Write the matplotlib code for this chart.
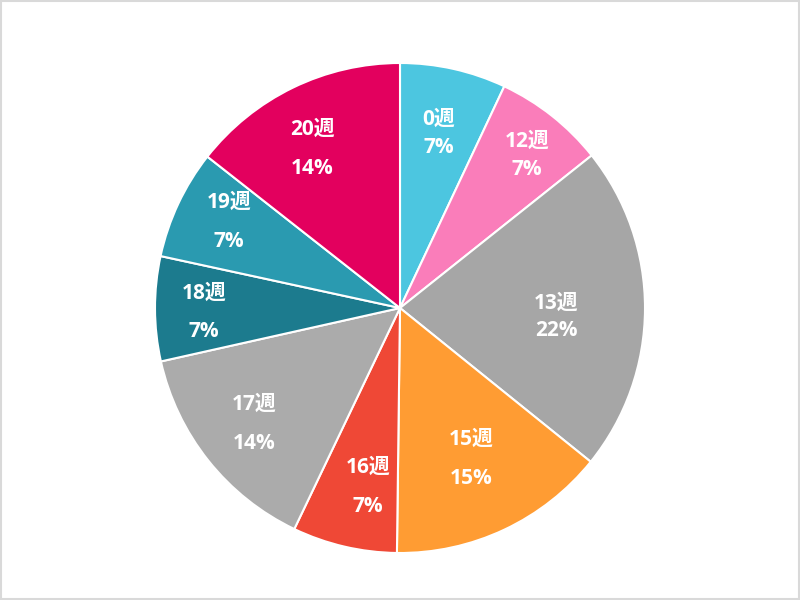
import matplotlib
matplotlib.use("Agg")
import matplotlib.pyplot as plt
import numpy as np
from matplotlib.patches import Rectangle

plt.rcParams['font.family'] = ['Open Sans', 'Noto Sans CJK JP', 'DejaVu Sans']

categories = ["0週", "12週", "13週", "15週", "16週", "17週", "18週", "19週", "20週"]
values = [7.0, 7.3, 21.5, 14.4, 6.9, 14.4, 6.9, 7.2, 14.4]
pct_labels = ["7%", "7%", "22%", "15%", "7%", "14%", "7%", "7%", "14%"]
colors = ["#4CC6E0", "#FA7DBA", "#A6A6A6", "#FF9C33", "#EF4836",
          "#ABABAB", "#1C7B8E", "#2A9AB0", "#E3005E"]
label_r = [0.73, 0.81, 0.64, 0.68, 0.74, 0.76, 0.80, 0.78, 0.74]
label_ang = [0, 1.5, 3, 0, -3, 0, -1, 1.5, -3]
label_gap = [0.115, 0.115, 0.11, 0.16, 0.16, 0.16, 0.155, 0.16, 0.16]

fig = plt.figure(figsize=(8, 6), dpi=100)
cx, cy = 0.5, 1 - 308 / 600
rw, rh = 245 / 800, 245 / 600
ax = fig.add_axes([cx - rw, cy - rh, 2 * rw, 2 * rh])

wedges, _ = ax.pie(values, colors=colors, startangle=90, counterclock=False,
                   radius=1, wedgeprops=dict(edgecolor="white", linewidth=1.5))
ax.set_xlim(-1, 1)
ax.set_ylim(-1, 1)
ax.set_aspect('equal')
ax.axis('off')

for w, cat, pct, r, a, g in zip(wedges, categories, pct_labels, label_r, label_ang, label_gap):
    mid = np.deg2rad((w.theta1 + w.theta2) / 2 - a)
    x, y = r * np.cos(mid), r * np.sin(mid)
    ax.text(x, y + g / 2, cat, ha="center", va="center", color="white",
            fontsize=15, fontweight="bold")
    ax.text(x, y - g / 2, pct, ha="center", va="center", color="white",
            fontsize=15, fontweight="bold")

fig.patches.append(Rectangle((0.001, 0.001), 0.998, 0.997, transform=fig.transFigure,
                             fill=False, edgecolor="#D9D9D9", linewidth=1.5))

fig.savefig("out.png", dpi=100)
